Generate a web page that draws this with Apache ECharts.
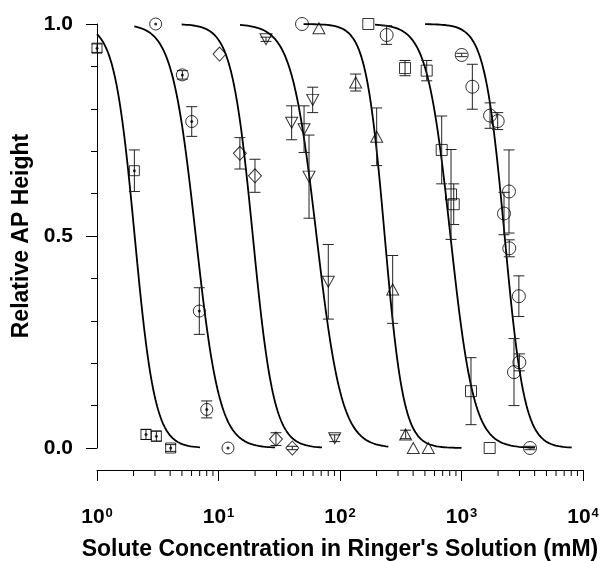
<!DOCTYPE html>
<html><head><meta charset="utf-8">
<script src="https://cdn.jsdelivr.net/npm/echarts@6/dist/echarts.min.js"></script>
<style>html,body{margin:0;padding:0;background:#fff}#c{width:604px;height:561px}</style>
</head><body><div id="c"></div>
<script>
// ---- axis ticks ----
const yTickValues = [0, 0.5, 1.0];
const xMinorTickValues = [2,3,4,5,6,7,8,9,20,30,40,50,60,70,80,90,200,300,400,500,600,700,800,900,2000,3000,4000,5000,6000,7000,8000,9000];

// ---- data: squares with dot ----
const sqDotX = [1.0, 2.03, 2.53, 3.08, 4.04];
const sqDotY = [0.943, 0.654, 0.032, 0.028, 0.0];
const sqDotErr = [0.01, 0.049, 0.012, 0.012, 0.008];
// ---- circles with dot ----
const cirDotX = [3.04, 5.04, 6.02, 6.95, 8.0, 11.97];
const cirDotY = [1.0, 0.880, 0.770, 0.323, 0.091, 0.0];
const cirDotErr = [0, 0.01, 0.035, 0.055, 0.02, 0];
// ---- diamonds ----
const diaX = [10.2, 15.0, 19.96, 29.7, 40.5];
const diaY = [0.929, 0.695, 0.642, 0.021, 0.0];
const diaErr = [0, 0.037, 0.039, 0.015, 0.004];
// ---- down triangles ----
const dTriX = [24.6, 40.0, 50.6, 59.6, 55.6, 80.1, 90.4];
const dTriY = [0.964, 0.767, 0.752, 0.821, 0.640, 0.392, 0.023];
const dTriErr = [0.005, 0.04, 0.055, 0.03, 0.098, 0.088, 0.008];
// ---- up triangles ----
const uTriX = [67.1, 134.6, 200.4, 271.5, 347, 401, 533];
const uTriY = [0.99, 0.862, 0.734, 0.374, 0.032, 0.0, 0.0];
const uTriErr = [0, 0.02, 0.068, 0.08, 0.01, 0, 0];
// ---- open squares ----
const sqX = [171, 343, 517, 687, 820, 863, 1197, 1706];
const sqY = [1.0, 0.896, 0.890, 0.703, 0.598, 0.575, 0.134, 0.0];
const sqErr = [0, 0.018, 0.024, 0.08, 0.106, 0.048, 0.079, 0];
// ---- open circles ----
const cirX = [48.7, 242, 1003, 1228, 1718, 1986, 2460, 2238, 2473, 2966, 2993, 2704, 3664];
const cirY = [1.0, 0.974, 0.927, 0.852, 0.784, 0.771, 0.605, 0.553, 0.471, 0.358, 0.202, 0.179, 0.0];
const cirErr = [0, 0.022, 0.004, 0.053, 0.03, 0.02, 0.098, 0.05, 0.02, 0.048, 0.02, 0.079, 0.004];

// ---- fitted Hill curves: log10(IC50), Hill coefficient, drawn range (log10) ----
const curveLogIC50 = [0.31, 0.813, 1.2825, 1.807, 2.368, 2.909, 3.355];
const curveHill = [5.2, 4.44, 5.0, 4.2, 5.6, 4.5, 5.3];
const curveFromLog = [0, 0.307, 0.697, 1.177, 1.70, 2.288, 2.70];
const curveToLog = [0.848, 1.465, 1.852, 2.398, 3.0, 3.605, 3.907];

const FONT = '"Liberation Sans", Arial, Helvetica, sans-serif';
const X_OFFSET = 22;

function curvePoints(i) {
  const pts = [];
  const N = 120;
  for (let k = 0; k <= N; k++) {
    const lx = curveFromLog[i] + (curveToLog[i] - curveFromLog[i]) * k / N;
    const y = 1 / (1 + Math.pow(10, curveHill[i] * (lx - curveLogIC50[i])));
    pts.push([Math.pow(10, lx), y]);
  }
  return pts;
}

function ln(x1, y1, x2, y2) {
  return {type: 'line', shape: {x1, y1, x2, y2}, style: {stroke: '#222', lineWidth: 1}};
}

function errSeries(xs, ys, es) {
  return {
    type: 'custom', silent: true, clip: false, z: 3,
    data: xs.map((x, i) => [x, ys[i], es[i]]),
    encode: {x: 0, y: 1},
    renderItem: function (p, api) {
      const x = api.value(0), y = api.value(1), e = api.value(2);
      if (!(e > 0)) return {type: 'group', children: []};
      const t = api.coord([x, y + e]), b = api.coord([x, y - e]);
      const w = 5.5;
      return {type: 'group', children: [
        ln(t[0], t[1], b[0], b[1]),
        ln(t[0] - w, t[1], t[0] + w, t[1]),
        ln(b[0] - w, b[1], b[0] + w, b[1])
      ]};
    }
  };
}

function scat(xs, ys, symbol, size) {
  return {
    type: 'scatter', silent: true, z: 4,
    data: xs.map((x, i) => [x, ys[i]]),
    symbol: symbol, symbolSize: size,
    itemStyle: {color: 'rgba(0,0,0,0)', borderColor: '#000', borderWidth: 1}
  };
}
function dots(xs, ys) {
  return {
    type: 'scatter', silent: true, z: 5,
    data: xs.map((x, i) => [x, ys[i]]),
    symbol: 'circle', symbolSize: 3,
    itemStyle: {color: '#000'}
  };
}

const series = [];
for (let i = 0; i < curveLogIC50.length; i++) {
  series.push({
    type: 'line', data: curvePoints(i), showSymbol: false, silent: true, z: 2,
    lineStyle: {color: '#000', width: 1.8}
  });
}
series.push(errSeries(sqDotX, sqDotY, sqDotErr));
series.push(errSeries(cirDotX, cirDotY, cirDotErr));
series.push(errSeries(diaX, diaY, diaErr));
series.push(errSeries(dTriX, dTriY, dTriErr));
series.push(errSeries(uTriX, uTriY, uTriErr));
series.push(errSeries(sqX, sqY, sqErr));
series.push(errSeries(cirX, cirY, cirErr));

series.push(scat(sqDotX, sqDotY, 'rect', 10));
series.push(dots(sqDotX, sqDotY));
series.push(scat(cirDotX, cirDotY, 'circle', 12));
series.push(dots(cirDotX, cirDotY));
series.push(scat(diaX, diaY, 'diamond', [13, 14]));
series.push(scat(dTriX, dTriY, 'path://M0,0 L12,0 L6,11 Z', [12, 11]));
series.push(scat(uTriX, uTriY, 'path://M6,0 L12,11 L0,11 Z', [12, 11]));
series.push(scat(sqX, sqY, 'rect', 11));
series.push(scat(cirX, cirY, 'circle', 13));

// minor log ticks on x axis
series.push({
  type: 'custom', silent: true, clip: false, z: 1,
  data: xMinorTickValues.map(v => [v, 0]),
  encode: {x: 0, y: 1},
  renderItem: function (p, api) {
    const pt = api.coord([api.value(0), 0]);
    const y0 = pt[1] + X_OFFSET;
    return {type: 'line', shape: {x1: pt[0], y1: y0, x2: pt[0], y2: y0 + 6}, style: {stroke: '#000', lineWidth: 1}};
  }
});

const chart = echarts.init(document.getElementById('c'), null, {renderer: 'canvas'});
chart.setOption({
  animation: false,
  backgroundColor: '#fff',
  grid: {left: 97, right: 21, top: 24, bottom: 113, containLabel: false, outerBoundsMode: 'none'},
  xAxis: {
    type: 'log', logBase: 10, min: 1, max: 10000, offset: X_OFFSET,
    name: "Solute Concentration in Ringer's Solution (mM)",
    nameLocation: 'middle', nameGap: 68,
    nameTextStyle: {fontFamily: FONT, fontWeight: 'bold', fontSize: 23, color: '#000'},
    axisLine: {show: true, onZero: false, lineStyle: {color: '#000', width: 1}},
    axisTick: {show: true, length: 11, lineStyle: {color: '#000', width: 1}},
    minorTick: {show: false},
    splitLine: {show: false},
    axisLabel: {
      margin: 37,
      formatter: function (v) { return '{b|10}{s|' + Math.round(Math.log10(v)) + '}'; },
      rich: {
        b: {fontFamily: FONT, fontWeight: 'bold', fontSize: 21, color: '#000'},
        s: {fontFamily: FONT, fontWeight: 'bold', fontSize: 13, color: '#000', verticalAlign: 'top', padding: [0, 0, 0, 1]}
      }
    }
  },
  yAxis: {
    type: 'value', min: 0, max: 1, interval: 0.5,
    name: 'Relative AP Height', nameLocation: 'middle', nameGap: 60,
    nameTextStyle: {fontFamily: FONT, fontWeight: 'bold', fontSize: 23, color: '#000'},
    axisLine: {show: true, onZero: false, lineStyle: {color: '#000', width: 1}},
    axisTick: {show: true, length: 11, lineStyle: {color: '#000', width: 1}},
    minorTick: {show: true, splitNumber: 5, length: 6, lineStyle: {color: '#000', width: 1}},
    splitLine: {show: false},
    axisLabel: {
      margin: 24, fontFamily: FONT, fontWeight: 'bold', fontSize: 21, color: '#000',
      formatter: function (v) { return yTickValues.indexOf(v) >= 0 ? v.toFixed(1) : ''; }
    }
  },
  series: series
});
</script>
</body></html>
